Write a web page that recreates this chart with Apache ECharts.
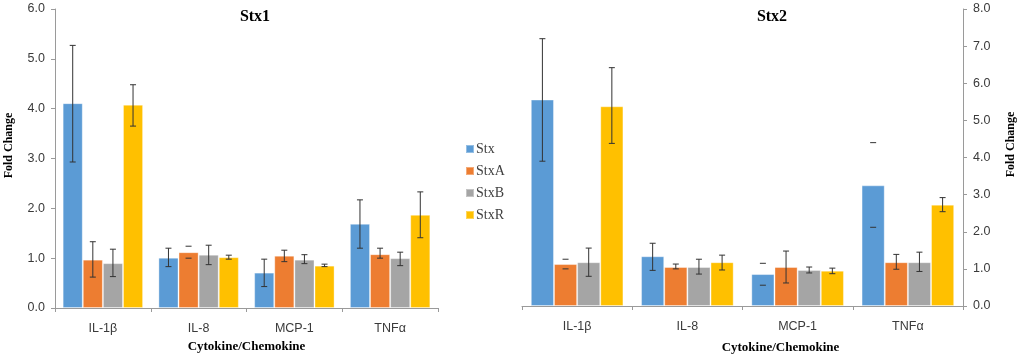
<!DOCTYPE html>
<html>
<head>
<meta charset="utf-8">
<script src="https://cdn.jsdelivr.net/npm/echarts@6/dist/echarts.min.js"></script>
<style>html,body{margin:0;padding:0;background:#fff}#c{width:1024px;height:359px}</style>
</head>
<body>
<div id="c"></div>
<script>
const categories = ['IL-1β', 'IL-8', 'MCP-1', 'TNFα'];
const seriesNames = ['Stx', 'StxA', 'StxB', 'StxR'];
const colors = ['#5B9BD5', '#ED7D31', '#A5A5A5', '#FFC000'];

// Stx1 panel: [series][category]
const stx1Mean  = [[4.11, 1.01, 0.71, 1.69], [0.97, 1.12, 1.05, 1.08], [0.90, 1.07, 0.97, 1.00], [4.08, 1.02, 0.85, 1.87]];
const stx1Upper = [[5.27, 1.20, 0.98, 2.17], [1.33, 1.24, 1.16, 1.20], [1.18, 1.26, 1.07, 1.12], [4.48, 1.06, 0.88, 2.33]];
const stx1Lower = [[2.93, 0.83, 0.43, 1.20], [0.62, 1.00, 0.93, 1.00], [0.63, 0.87, 0.89, 0.85], [3.65, 0.98, 0.83, 1.41]];
const stx1CapsOnly = [[0, 0, 0, 0], [0, 1, 0, 0], [0, 0, 0, 0], [0, 0, 0, 0]];

// Stx2 panel: [series][category]
const stx2Mean  = [[5.56, 1.34, 0.86, 3.25], [1.13, 1.05, 1.05, 1.18], [1.18, 1.05, 0.97, 1.18], [5.38, 1.18, 0.95, 2.73]];
const stx2Upper = [[7.20, 1.69, 1.15, 4.40], [1.26, 1.13, 1.48, 1.39], [1.56, 1.26, 1.05, 1.45], [6.42, 1.37, 1.02, 2.92]];
const stx2Lower = [[3.90, 0.96, 0.56, 2.12], [1.00, 1.00, 0.62, 0.99], [0.80, 0.86, 0.89, 0.93], [4.38, 0.97, 0.87, 2.54]];
const stx2CapsOnly = [[0, 0, 1, 1], [1, 0, 0, 0], [0, 0, 0, 0], [0, 0, 0, 0]];

const yTicks1 = { min: 0, max: 6, interval: 1 };
const yTicks2 = { min: 0, max: 8, interval: 1 };

const CAT_GAP = 0.16;
const labelColor = '#3a3a3a';
const axisColor = '#9a9a9a';
const sansFont = 'Liberation Sans';
const serifFont = 'Liberation Serif';

function errRender(sIdx) {
  return function (params, api) {
    const ci = api.value(0);
    const catW = api.size([1, 0])[0];
    const barW = catW * (1 - CAT_GAP) / 4;
    const x = api.coord([ci, 0])[0] + (sIdx - 1.5) * barW;
    const yLo = api.coord([ci, api.value(1)])[1];
    const yHi = api.coord([ci, api.value(2)])[1];
    const capsOnly = api.value(3);
    const st = { stroke: '#333', lineWidth: 1 };
    const children = [
      { type: 'line', shape: { x1: x - 3, y1: yHi, x2: x + 3, y2: yHi }, style: st },
      { type: 'line', shape: { x1: x - 3, y1: yLo, x2: x + 3, y2: yLo }, style: st }
    ];
    if (!capsOnly) children.push({ type: 'line', shape: { x1: x, y1: yHi, x2: x, y2: yLo }, style: st });
    return { type: 'group', children };
  };
}

function buildSeries(gridIdx, mean, upper, lower, capsOnly) {
  const out = [];
  seriesNames.forEach((n, s) => {
    out.push({
      name: n, type: 'bar', xAxisIndex: gridIdx, yAxisIndex: gridIdx,
      data: mean[s], barGap: '0%', barCategoryGap: (CAT_GAP * 100) + '%',
      itemStyle: { color: colors[s], borderColor: 'rgba(255,255,255,0.35)', borderWidth: 1 },
      emphasis: { disabled: true }
    });
  });
  seriesNames.forEach((n, s) => {
    out.push({
      name: n + ' error', type: 'custom', xAxisIndex: gridIdx, yAxisIndex: gridIdx,
      renderItem: errRender(s), z: 10, silent: true,
      data: categories.map((c, i) => [i, lower[s][i], upper[s][i], capsOnly[s][i]])
    });
  });
  return out;
}

function xAxisCfg(gridIdx, padLeft, gap) {
  return {
    type: 'category', gridIndex: gridIdx, data: categories,
    axisLine: { lineStyle: { color: axisColor } },
    axisTick: { show: true, length: 4, lineStyle: { color: axisColor } },
    axisLabel: { color: labelColor, fontFamily: sansFont, fontSize: 12.5, margin: 14 },
    name: 'Cytokine/Chemokine', nameLocation: 'middle', nameGap: gap,
    nameTextStyle: { fontFamily: serifFont, fontWeight: 'bold', fontSize: 13, color: '#000', padding: [0, 0, 0, padLeft] }
  };
}

function yAxisCfg(gridIdx, ticks, pos, gap) {
  return {
    type: 'value', gridIndex: gridIdx, position: pos,
    min: ticks.min, max: ticks.max, interval: ticks.interval,
    splitLine: { show: false },
    axisLine: { show: true, lineStyle: { color: axisColor } },
    axisTick: { show: true, length: 4, lineStyle: { color: axisColor } },
    axisLabel: { color: labelColor, fontFamily: sansFont, fontSize: 12.5, margin: 10, formatter: v => v.toFixed(1) },
    name: 'Fold Change', nameLocation: 'middle', nameGap: gap, nameRotate: 90,
    nameTextStyle: { fontFamily: serifFont, fontWeight: 'bold', fontSize: 12, color: '#000', padding: [0, 0, 0, 26] }
  };
}

const chart = echarts.init(document.getElementById('c'), null, { renderer: 'canvas' });
chart.setOption({
  animation: false,
  title: [
    { text: 'Stx1', left: 250, top: 4, textAlign: 'center', textStyle: { fontFamily: serifFont, fontWeight: 'bold', fontSize: 16, color: '#000' } },
    { text: 'Stx2', left: 767, top: 4, textAlign: 'center', textStyle: { fontFamily: serifFont, fontWeight: 'bold', fontSize: 16, color: '#000' } }
  ],
  legend: {
    data: seriesNames, orient: 'vertical', left: 460, top: 137,
    itemWidth: 8, itemHeight: 8, itemGap: 8, icon: 'rect',
    textStyle: { fontFamily: serifFont, fontSize: 14, color: '#404040', lineHeight: 14, padding: [0, 0, 0, -3] }
  },
  grid: [
    { left: 55, right: 1024 - 438, top: 9, bottom: 51 },
    { left: 522, right: 1024 - 963, top: 9, bottom: 51 }
  ],
  xAxis: [xAxisCfg(0, 0, 32), xAxisCfg(1, 76, 35)],
  yAxis: [yAxisCfg(0, yTicks1, 'left', 40), yAxisCfg(1, yTicks2, 'right', 42)],
  series: [
    ...buildSeries(0, stx1Mean, stx1Upper, stx1Lower, stx1CapsOnly),
    ...buildSeries(1, stx2Mean, stx2Upper, stx2Lower, stx2CapsOnly)
  ]
});
</script>
</body>
</html>
